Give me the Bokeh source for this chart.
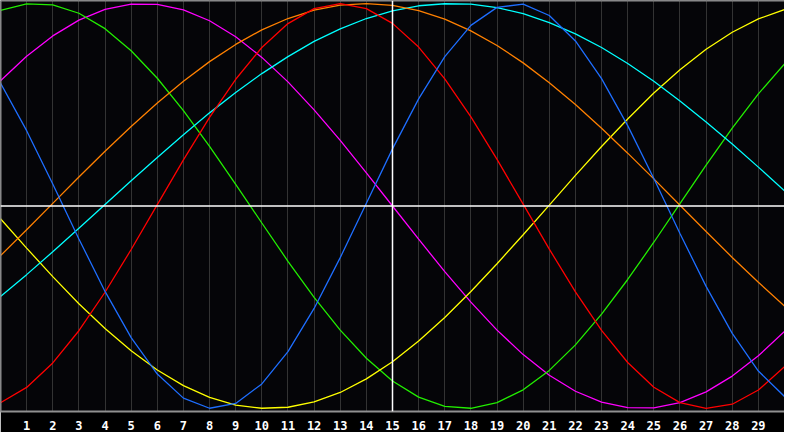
from bokeh.plotting import figure
from bokeh.models import Range1d, Span, FixedTicker
from bokeh.embed import file_html
from bokeh.resources import INLINE

# sample positions and values, one list per curve
xs = list(range(0, 31))

red = [-0.972, -0.896, -0.775, -0.616, -0.426, -0.215, 0.007, 0.228, 0.438, 0.626,
       0.783, 0.901, 0.975, 1.000, 0.975, 0.902, 0.785, 0.628, 0.440, 0.230,
       0.009, -0.213, -0.424, -0.614, -0.773, -0.895, -0.971, -1.000, -0.979, -0.909,
       -0.794]
orange = [-0.245, -0.117, 0.013, 0.143, 0.270, 0.393, 0.509, 0.616, 0.713, 0.798,
          0.870, 0.926, 0.967, 0.992, 1.000, 0.991, 0.965, 0.923, 0.865, 0.793,
          0.707, 0.609, 0.501, 0.384, 0.261, 0.134, 0.004, -0.126, -0.254, -0.377,
          -0.494]
yellow = [-0.063, -0.208, -0.349, -0.483, -0.605, -0.715, -0.810, -0.887, -0.945, -0.983,
          -0.999, -0.994, -0.968, -0.921, -0.854, -0.769, -0.667, -0.551, -0.422, -0.285,
          -0.142, 0.004, 0.151, 0.294, 0.430, 0.558, 0.673, 0.774, 0.858, 0.924,
          0.970]
green = [0.966, 0.998, 0.993, 0.952, 0.876, 0.767, 0.631, 0.471, 0.295, 0.107,
         -0.084, -0.273, -0.451, -0.613, -0.752, -0.864, -0.944, -0.990, -0.999, -0.971,
         -0.908, -0.812, -0.686, -0.534, -0.363, -0.179, 0.012, 0.202, 0.385, 0.554,
         0.702]
cyan = [-0.447, -0.339, -0.226, -0.110, 0.007, 0.125, 0.240, 0.352, 0.460, 0.561,
        0.654, 0.738, 0.813, 0.875, 0.926, 0.964, 0.989, 0.999, 0.997, 0.980,
        0.950, 0.906, 0.850, 0.783, 0.704, 0.616, 0.519, 0.415, 0.306, 0.192,
        0.075]
blue = [0.607, 0.372, 0.109, -0.163, -0.422, -0.650, -0.830, -0.949, -0.999, -0.975,
        -0.879, -0.719, -0.506, -0.255, 0.014, 0.282, 0.529, 0.738, 0.892, 0.981,
        0.997, 0.941, 0.815, 0.629, 0.397, 0.136, -0.136, -0.397, -0.629, -0.815,
        -0.941]
magenta = [0.619, 0.740, 0.840, 0.918, 0.971, 0.997, 0.996, 0.969, 0.915, 0.836,
           0.734, 0.613, 0.475, 0.324, 0.164, 0.000, -0.164, -0.324, -0.475, -0.613,
           -0.734, -0.836, -0.915, -0.969, -0.996, -0.997, -0.971, -0.918, -0.840, -0.740,
           -0.619]

ticks = list(range(1, 30))

series = [
    (magenta, "#ff00ff"),
    (green, "#22ee00"),
    (yellow, "#ffff00"),
    (cyan, "#00ffff"),
    (orange, "#ff8000"),
    (red, "#ff0000"),
    (blue, "#1e6eff"),
]

p = figure(width=784, height=432, x_range=Range1d(0, 30), y_range=Range1d(-1.015, 1.015),
           output_backend="svg", toolbar_location=None, y_axis_location=None,
           min_border_left=0, min_border_right=0, min_border_top=0, min_border_bottom=0)
p.background_fill_color = "#050508"
p.border_fill_color = "#000000"
p.outline_line_color = None

p.ygrid.visible = False
p.xgrid.ticker = FixedTicker(ticks=ticks)
p.xgrid.grid_line_color = "#333333"
p.xgrid.grid_line_width = 1

p.xaxis.ticker = FixedTicker(ticks=ticks)
p.xaxis.major_tick_line_color = None
p.xaxis.minor_tick_line_color = None
p.xaxis.axis_line_color = "#909090"
p.xaxis.axis_line_width = 2
p.xaxis.major_label_standoff = 3
p.xaxis.major_label_text_color = "#ffffff"
p.xaxis.major_label_text_font = "DejaVu Sans Mono"
p.xaxis.major_label_text_font_style = "bold"
p.xaxis.major_label_text_font_size = "12px"

# frame edges on the left and top
p.add_layout(Span(location=0, dimension="height", line_color="#909090", line_width=2))
p.add_layout(Span(location=1.015, dimension="width", line_color="#909090", line_width=2))

for ys, col in series:
    p.line(xs, ys, line_color=col, line_width=1.3)

# white cross through the middle
p.add_layout(Span(location=15, dimension="height", line_color="#ffffff", line_width=1.5))
p.add_layout(Span(location=0, dimension="width", line_color="#ffffff", line_width=1.5))

open("out.html", "w").write(file_html(p, INLINE))
